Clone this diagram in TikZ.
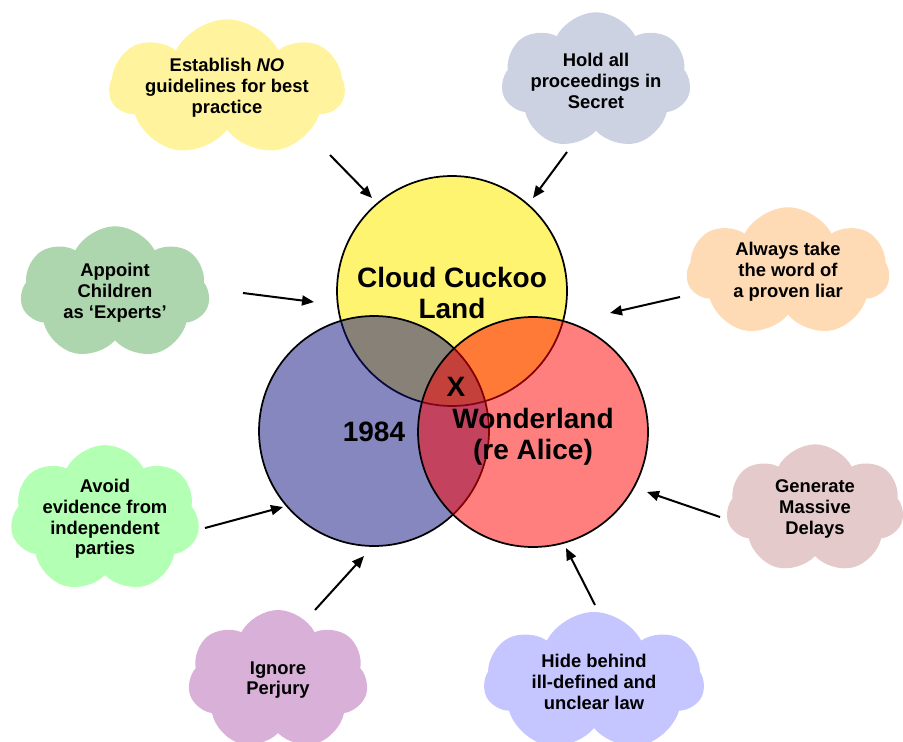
\documentclass[tikz,border=0pt]{standalone}
\usepackage{fontspec}
\setmainfont{Liberation Sans}
\usetikzlibrary{shapes.symbols, arrows.meta}

\definecolor{setyellow}{RGB}{255,244,112}
\definecolor{setnavy}{RGB}{16,16,128}
\definecolor{setred}{RGB}{255,0,0}
\definecolor{cyellow}{RGB}{255,244,157}
\definecolor{cgrey}{RGB}{204,210,226}
\definecolor{cgreen}{RGB}{174,214,174}
\definecolor{cpeach}{RGB}{255,219,181}
\definecolor{clime}{RGB}{179,255,179}
\definecolor{crose}{RGB}{228,202,202}
\definecolor{corchid}{RGB}{216,176,216}
\definecolor{clavender}{RGB}{197,197,255}

\begin{document}
\begin{tikzpicture}[x=0.75pt, y=-0.75pt,
  idea/.style={cloud, cloud puffs=7, cloud puff arc=125, cloud ignores aspect, fill=#1, align=center, inner sep=0pt,
    font=\fontsize{13.8}{15.6}\selectfont\bfseries},
  venn/.style={circle, draw=black, line width=1.3pt, minimum size=172.5pt, inner sep=0pt},
  vtext/.style={align=center, font=\fontsize{21}{23.5}\selectfont\bfseries},
  arr/.style={-{Triangle[length=9pt, width=7.5pt]}, line width=1.5pt}]
\useasboundingbox (0,0) rectangle (903,742);

\node[idea=cyellow, minimum width=176pt, minimum height=103pt] (noguide) at (227,88) {Establish \textit{NO}\\guidelines for best\\practice};
\node[idea=cgrey, minimum width=142pt, minimum height=103pt] (secret) at (596,81) {Hold all\\proceedings in\\Secret};
\node[idea=cgreen, minimum width=142pt, minimum height=100pt] (experts) at (115,293) {Appoint\\Children\\as `Experts'};
\node[idea=cpeach, minimum width=152pt, minimum height=97pt] (liar) at (788,272) {Always take\\the word of\\a proven liar};
\node[idea=clime, minimum width=142pt, minimum height=103pt] (evidence) at (105,519) {Avoid\\evidence from\\independent\\parties};
\node[idea=crose, minimum width=133pt, minimum height=97pt] (delays) at (815,509) {Generate\\Massive\\Delays};
\node[idea=corchid, minimum width=135pt, minimum height=105pt] (perjury) at (278,680) {Ignore\\Perjury};
\node[idea=clavender, minimum width=165pt, minimum height=105pt] (unclear) at (594,682) {Hide behind\\ill-defined and\\unclear law};

\node[venn, fill=setyellow] (cuckoo) at (452,291) {};
\node[venn, fill=setnavy, fill opacity=0.5] (orwell) at (374,431) {};
\node[venn, fill=setred, fill opacity=0.5] (alice) at (533,432) {};

\node[vtext] (cuckootext) at (452,293) {Cloud Cuckoo\\Land};
\node[vtext] (orwelltext) at (374,432) {1984};
\node[vtext] (centre) at (456,387) {X};
\node[vtext] (alicetext) at (533,437) {Wonderland\\(re Alice)};

\coordinate (a1) at (330,155); \coordinate (b1) at (372,198);
\coordinate (a2) at (567,152); \coordinate (b2) at (533,198);
\coordinate (a3) at (243,293); \coordinate (b3) at (314,302);
\coordinate (a4) at (680,297); \coordinate (b4) at (610,313);
\coordinate (a5) at (205,528); \coordinate (b5) at (283,507);
\coordinate (a6) at (720,517); \coordinate (b6) at (647,492);
\coordinate (a7) at (315,610); \coordinate (b7) at (364,556);
\coordinate (a8) at (595,605); \coordinate (b8) at (566,548);

\draw[arr] (a1) -- (b1);
\draw[arr] (a2) -- (b2);
\draw[arr] (a3) -- (b3);
\draw[arr] (a4) -- (b4);
\draw[arr] (a5) -- (b5);
\draw[arr] (a6) -- (b6);
\draw[arr] (a7) -- (b7);
\draw[arr] (a8) -- (b8);
\end{tikzpicture}
\end{document}
